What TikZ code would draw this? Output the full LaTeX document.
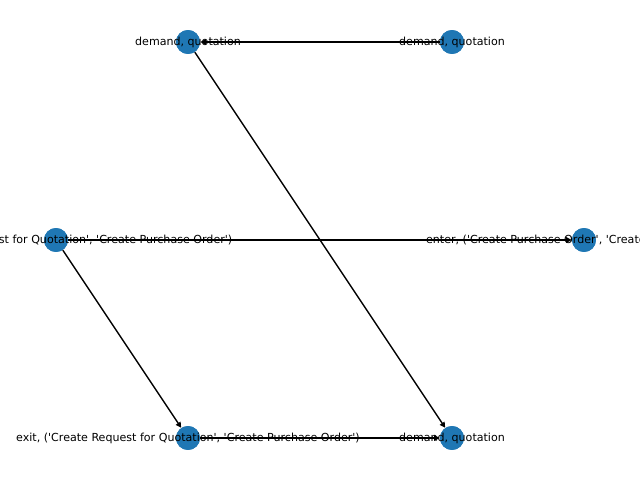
\documentclass[tikz,border=0pt]{standalone}
\usepackage{fontspec}
\setmainfont{DejaVu Sans}
\newfontfamily\lblfont{DejaVu Sans}[Ligatures=TeXOff]
\usetikzlibrary{arrows.meta}
\definecolor{nodeblue}{HTML}{1F77B4}
\begin{document}
\begin{tikzpicture}[x=0.01in,y=-0.01in,
  vert/.style={circle,fill=nodeblue,draw=none,minimum size=17.3pt,inner sep=0pt},
  lbl/.style={font=\lblfont\fontsize{8}{9.6}\selectfont,inner sep=0pt,text=black},
  conn/.style={draw=black,line width=1pt,-{Triangle[length=4pt,width=4pt]}}]
\useasboundingbox (0,0) rectangle (640,480);
\clip (0,0) rectangle (640,480);
\node[vert] (a) at (188,42) {};
\node[vert] (b) at (452,42) {};
\node[vert] (c) at (56,240) {};
\node[vert] (d) at (584,240) {};
\node[vert] (e) at (188,438) {};
\node[vert] (f) at (452,438) {};
\draw[conn] (b) -- (a);
\draw[conn] (a) -- (f);
\draw[conn] (c) -- (d);
\draw[conn] (c) -- (e);
\draw[conn] (e) -- (f);
\node[vert] at (a) {};
\node[vert] at (b) {};
\node[vert] at (c) {};
\node[vert] at (d) {};
\node[vert] at (e) {};
\node[vert] at (f) {};
\node[lbl] (la) at (a) {demand, quotation};
\node[lbl] (lb) at (b) {demand, quotation};
\node[lbl] (lc) at (c) {enter, ('Create Request for Quotation', 'Create Purchase Order')};
\node[lbl] (ld) at (d) {enter, ('Create Purchase Order', 'Create Purchase Order')};
\node[lbl] (le) at (e) {exit, ('Create Request for Quotation', 'Create Purchase Order')};
\node[lbl] (lf) at (f) {demand, quotation};
\end{tikzpicture}
\end{document}
